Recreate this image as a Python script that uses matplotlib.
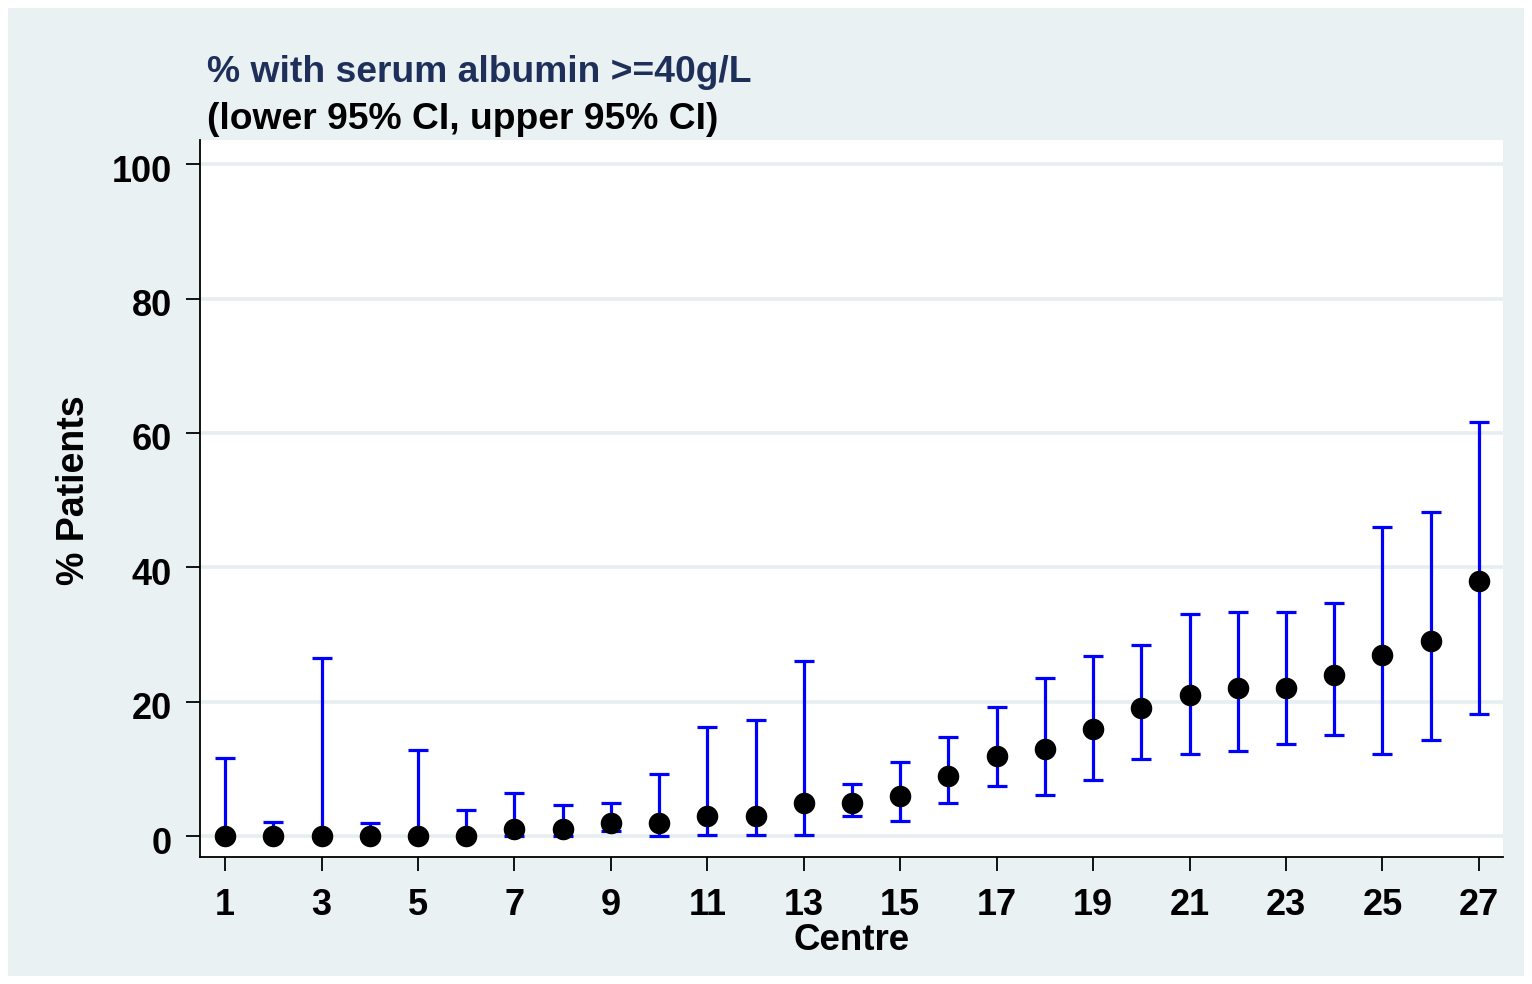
import matplotlib
matplotlib.use("Agg")
import matplotlib.pyplot as plt
import matplotlib.transforms as mtransforms
from matplotlib.patches import Rectangle

# centre number, estimate and 95% CI
centre = list(range(1, 28))
pct = [0, 0, 0, 0, 0, 0, 1, 1, 2, 2, 3, 3, 5, 5, 6, 9, 12, 13, 16, 19,
       21, 22, 22, 24, 27, 29, 38]
lower = [0, 0, 0, 0, 0, 0, 0, 0, 0.8, 0, 0.1, 0.1, 0.1, 3.0, 2.3, 5.0, 7.4, 6.2,
         8.3, 11.5, 12.2, 12.7, 13.7, 15.1, 12.3, 14.3, 18.2]
upper = [11.6, 2.1, 26.5, 2.0, 12.8, 3.9, 6.4, 4.7, 5.0, 9.3, 16.3, 17.3, 26.1,
         7.7, 11.1, 14.7, 19.2, 23.5, 26.8, 28.5, 33.1, 33.4, 33.4, 34.7, 46.0,
         48.2, 61.7]
xticks = list(range(1, 28, 2))
yticks = [0, 20, 40, 60, 80, 100]

plt.rcParams['font.family'] = ['Liberation Sans', 'DejaVu Sans']
plt.rcParams['font.weight'] = 'bold'

bg = '#eaf1f3'
fig = plt.figure(figsize=(15.32, 9.84), dpi=100, facecolor='white')
fig.patches.append(Rectangle((8 / 1532, 8 / 984), 1 - 16 / 1532, 1 - 16 / 984,
                             transform=fig.transFigure, facecolor=bg,
                             edgecolor='none', zorder=-10))

ax = fig.add_axes([200 / 1532, 127 / 984, 1303 / 1532, 717 / 984])
ax.set_zorder(1)
ax.set_facecolor('white')

err_lo = [p - l for p, l in zip(pct, lower)]
err_hi = [u - p for p, u in zip(pct, upper)]
ax.errorbar(centre, pct, yerr=[err_lo, err_hi], fmt='none', ecolor='#0000ff',
            elinewidth=2.3, capsize=7, capthick=2.3, zorder=3)
ax.plot(centre, pct, 'o', color='black', markersize=14.5, zorder=4)

ax.set_xlim(0.48, 27.5)
ax.set_ylim(-3.1, 103.6)
ax.set_xticks(xticks)
ax.set_yticks(yticks)
ax.yaxis.grid(True, color='#e6eef0', linewidth=2.6)
ax.set_axisbelow(True)

for s in ['top', 'right']:
    ax.spines[s].set_visible(False)
for s in ['left', 'bottom']:
    ax.spines[s].set_linewidth(1.3)

ax.tick_params(axis='both', direction='out', length=10, width=1.3,
               labelsize=26)
ax.tick_params(axis='y', pad=10)
ax.tick_params(axis='x', pad=12)
# y labels sit a little below their ticks in the original
shift = mtransforms.ScaledTranslation(0, -4 / 100, fig.dpi_scale_trans)
for lab in ax.get_yticklabels():
    lab.set_transform(lab.get_transform() + shift)
for lab in ax.get_xticklabels() + ax.get_yticklabels():
    lab.set_fontweight('bold')

ax.set_xlabel('Centre', fontsize=26.5, fontweight='bold', labelpad=0)
ax.set_ylabel('% Patients', fontsize=27, fontweight='bold')
ax.yaxis.set_label_coords(-0.083, 0.512)

fig.text(207 / 1532, 1 - 82 / 984, '% with serum albumin >=40g/L',
         fontsize=26.8, fontweight='bold', color='#1e2f5a', va='baseline')
fig.text(207 / 1532, 1 - 129 / 984, '(lower 95% CI, upper 95% CI)',
         fontsize=26.8, fontweight='bold', color='black', va='baseline')

fig.savefig('out.png', dpi=100, facecolor='white')
